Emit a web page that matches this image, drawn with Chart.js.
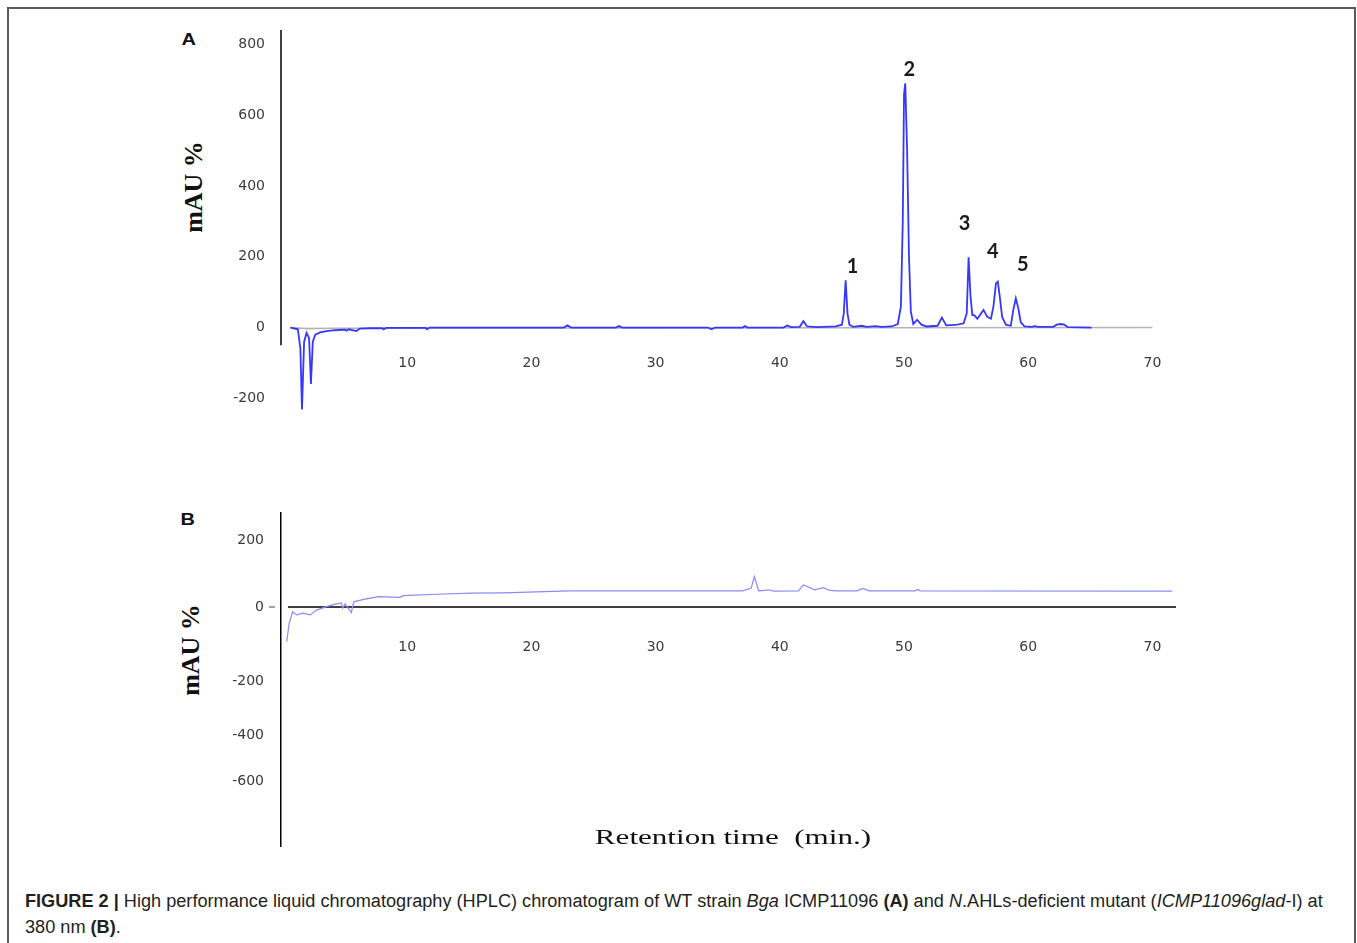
<!DOCTYPE html>
<html>
<head>
<meta charset="utf-8">
<script src="https://cdn.jsdelivr.net/npm/chart.js@4.4.0/dist/chart.umd.min.js"></script>
<style>
  body { margin: 0; width: 1357px; height: 943px; background: #fff; position: relative; overflow: hidden; }
  .frame { position: absolute; left: 7px; top: 7px; width: 1349px; height: 980px; border: 2px solid #5a5a5a; box-sizing: border-box; }
  .box { position: absolute; }
  .panel { position: absolute; font: bold 16px "Liberation Sans", sans-serif; color: #111; transform: scaleX(1.25); }
  .ytitle { position: absolute; width: 160px; height: 30px; line-height: 30px; text-align: center;
            font: bold 26px "Liberation Serif", serif; color: #111; transform: rotate(-90deg); white-space: pre; }
  .xtitle { position: absolute; left: 483px; top: 825px; width: 500px; height: 30px; line-height: 30px; text-align: center;
            font: 21px "Liberation Serif", serif; color: #111; transform: scaleX(1.48); white-space: pre; }
  .caption { position: absolute; left: 25px; top: 888px; width: 1320px; font: 18.15px "Liberation Sans", sans-serif;
             line-height: 26px; color: #231f20; white-space: nowrap; }
</style>
</head>
<body>
<div class="frame"></div>

<div class="panel" style="left:183px; top:31px;">A</div>
<div class="panel" style="left:182px; top:511px;">B</div>

<div class="ytitle" style="left:114px; top:172px;">mAU %</div>
<div class="ytitle" style="left:111px; top:635px;">mAU %</div>

<div class="box" style="left:170px; top:20px; width:1030px; height:410px;"><canvas id="chartA"></canvas></div>
<div class="box" style="left:170px; top:503px; width:1030px; height:344px;"><canvas id="chartB"></canvas></div>

<div class="xtitle">Retention time  (min.)</div>

<div class="caption"><b>FIGURE 2 |</b> High performance liquid chromatography (HPLC) chromatogram of WT strain <i>Bga</i> ICMP11096 <b>(A)</b> and <i>N</i>.AHLs-deficient mutant (<i>ICMP11096glad</i>-I) at<br>380 nm <b>(B)</b>.</div>

<script>
// ---- data ----
const xTickLabels = [10, 20, 30, 40, 50, 60, 70]
const yTickLabelsA = [800, 600, 400, 200, 0, -200]
const yTickLabelsB = ['200', '0', '-200', '-400', '-600']

// panel A, WT strain, blue trace
const timeA = [
  0.6, 1.2, 1.4, 1.53, 1.7, 1.9, 2.1, 2.25, 2.4, 2.6,
  3.0, 3.5, 4.0, 4.5, 5.0, 5.1, 5.3, 5.9, 6.2, 7.0,
  8.0, 8.1, 8.3, 11.5, 11.6, 11.8, 22.6, 22.9, 23.2,
  26.8, 27.05, 27.3, 34.2, 34.5, 34.8, 37.0, 37.2, 37.4,
  40.3, 40.6, 40.9, 41.6, 41.9, 42.2, 43.0, 44.5,
  45.0, 45.15, 45.3, 45.45, 45.6, 45.9, 46.6, 47.0, 47.7, 48.2,
  49.0, 49.5, 49.75, 49.9, 50.0, 50.1, 50.25, 50.4, 50.55, 50.75,
  51.05, 51.4, 51.8, 52.7, 53.05, 53.4, 54.3, 54.8,
  55.05, 55.2, 55.35, 55.5, 55.65, 55.9, 56.4, 56.7, 57.0,
  57.2, 57.4, 57.55, 57.7, 57.9, 58.2, 58.6, 58.8, 59.0, 59.2, 59.4, 59.7,
  60.3, 60.5, 60.8, 62.0, 62.3, 62.6, 62.9, 63.2, 65.1
]
const signalA = [
  0, -5, -60, -232, -40, -15, -30, -160, -40, -20,
  -14, -10, -8, -7, -6, -9, -5, -10, -3, -2,
  -2, -5, -1, -1, -5, 0, 0, 6, 0,
  0, 4, 0, 0, -5, 0, 0, 4, 0,
  0, 6, 1, 2, 18, 3, 1, 3,
  8, 40, 134, 40, 8, 2, 5, 2, 4, 2,
  3, 10, 60, 300, 660, 691, 500, 200, 45, 10,
  22, 8, 3, 5, 28, 6, 8, 12,
  40, 199, 90, 35, 35, 25, 50, 30, 25,
  60, 125, 130, 90, 30, 8, 5, 50, 83, 55, 15, 3,
  2, 4, 2, 2, 8, 10, 8, 1, 0
]

// panel A, grey reference trace
const timeRefA = [0.56, 2.0, 4.0, 70.0]
const signalRefA = [0, -3, -2, 0]

// numbered peaks
const peakLabels = ['1', '2', '3', '4', '5']
const peakTimes = [45.3, 50.1, 55.2, 57.55, 59.0]

// panel B, mutant, light blue trace
const timeB = [
  0.3, 0.5, 0.78, 1.1, 1.6, 2.2, 2.7, 3.5, 4.3, 4.7,
  4.8, 5.0, 5.5, 5.7, 6.5, 7.7, 9.4, 9.7, 12.4, 15.1,
  17.7, 23.1, 30.0, 37.0, 37.7, 37.95, 38.3, 38.8, 39.1, 39.5,
  41.5, 41.9, 42.3, 42.8, 43.5, 44.0, 44.6, 46.2, 46.7, 47.2,
  50.9, 51.1, 51.3, 71.6
]
const signalB = [
  -100, -47, -14, -23, -18, -23, -9, 1, 9, 12,
  -3, 9, -16, 15, 22, 30, 28, 33, 37, 40,
  41, 47, 47, 47, 55, 88, 47, 48, 50, 46,
  47, 64, 58, 50, 56, 48, 47, 47, 54, 47,
  47, 51, 47, 46
]

// ---- chart setup ----
const tickFont = {family: 'DejaVu Sans', size: 14}
const tickColor = '#3a3a3a'

function toPoints(xs, ys) {
  return xs.map((t, i) => ({x: t, y: ys[i]}))
}

// keep the plot area exactly where the original one is
function fixYAxis(s) {
  s.width = 111
  s.paddingTop = 0
  s.paddingBottom = 0
}

const extrasA = {
  id: 'extrasA',
  afterDatasetsDraw(chart) {
    const {ctx, chartArea, scales} = chart
    const x = scales.x, y = scales.y
    ctx.save()
    // y axis line stops just under the zero level
    ctx.strokeStyle = '#000'
    ctx.lineWidth = 1.5
    ctx.beginPath()
    ctx.moveTo(chartArea.left, chartArea.top)
    ctx.lineTo(chartArea.left, y.getPixelForValue(-50))
    ctx.stroke()

    // peak numbers
    const dx = [7, 4, -4, -5, 7]
    const dy = [-14, -14, -34, -30, -34]
    ctx.fillStyle = '#1a1a1a'
    ctx.font = 'bold 20px Lato'
    ctx.textAlign = 'center'
    ctx.textBaseline = 'middle'
    peakLabels.forEach((lab, i) => {
      const h = signalA[timeA.indexOf(peakTimes[i])]
      ctx.fillText(lab, x.getPixelForValue(peakTimes[i]) + dx[i], y.getPixelForValue(h) + dy[i])
    })
    ctx.restore()
  }
}

const extrasB = {
  id: 'extrasB',
  beforeDatasetsDraw(chart) {
    const {ctx, chartArea, scales} = chart
    const x = scales.x, y = scales.y
    const y0 = y.getPixelForValue(0)
    ctx.save()
    ctx.strokeStyle = '#000'
    ctx.lineWidth = 1.5
    ctx.beginPath()
    ctx.moveTo(x.getPixelForValue(0.4), y0)
    ctx.lineTo(x.getPixelForValue(71.9), y0)
    ctx.stroke()
    // little dash beside the 0 label
    ctx.lineWidth = 1
    ctx.strokeStyle = '#444'
    ctx.beginPath()
    ctx.moveTo(chartArea.left - 12, y0)
    ctx.lineTo(chartArea.left - 6, y0)
    ctx.stroke()
    ctx.restore()
  }
}

function xScale(pad) {
  return {
    type: 'linear',
    min: -0.16,
    max: 73.83,
    position: {y: 0},
    afterFit: s => { s.height = 0 },
    grid: {display: false, drawTicks: false},
    border: {display: false},
    afterBuildTicks: s => { s.ticks = xTickLabels.map(v => ({value: v})) },
    ticks: {padding: pad, color: tickColor, font: tickFont, autoSkip: false, maxRotation: 0}
  }
}

const configA = {
  type: 'scatter',
  data: {
    datasets: [
      {data: toPoints(timeA, signalA), showLine: true, borderColor: '#3636ff', borderWidth: 1.8, pointRadius: 0, tension: 0},
      {data: toPoints(timeRefA, signalRefA), showLine: true, borderColor: '#b4b4b4', borderWidth: 1.6, pointRadius: 0, tension: 0}
    ]
  },
  options: {
    responsive: true,
    maintainAspectRatio: false,
    animation: false,
    layout: {padding: {top: 10, left: 0, right: 0, bottom: 0}},
    plugins: {legend: {display: false}, tooltip: {enabled: false}},
    scales: {
      x: xScale(27),
      y: {
        type: 'linear',
        min: -290,
        max: 842,
        position: 'left',
        afterFit: fixYAxis,
        afterBuildTicks: s => { s.ticks = yTickLabelsA.map(v => ({value: v})) },
        grid: {display: false, drawTicks: false},
        border: {display: false},
        ticks: {padding: 16, color: tickColor, font: tickFont, autoSkip: false}
      }
    }
  },
  plugins: [extrasA]
}

// the B axis labels are unevenly spaced in the original figure
const tickPosB = [194, 0, -216, -371, -506]

const configB = {
  type: 'scatter',
  data: {
    datasets: [
      {data: toPoints(timeB, signalB), showLine: true, borderColor: '#8a8aff', borderWidth: 1.2, pointRadius: 0, tension: 0}
    ]
  },
  options: {
    responsive: true,
    maintainAspectRatio: false,
    animation: false,
    layout: {padding: {top: 10, left: 0, right: 0, bottom: 0}},
    plugins: {legend: {display: false}, tooltip: {enabled: false}},
    scales: {
      x: xScale(32),
      y: {
        type: 'linear',
        min: -695.7,
        max: 272.5,
        position: 'left',
        afterFit: fixYAxis,
        afterBuildTicks: s => { s.ticks = tickPosB.map(v => ({value: v})) },
        grid: {display: false, drawTicks: false},
        border: {display: true, color: '#000', width: 1.5},
        ticks: {
          padding: 17,
          color: tickColor,
          font: tickFont,
          autoSkip: false,
          callback: (v, i) => yTickLabelsB[i]
        }
      }
    }
  },
  plugins: [extrasB]
}

let chartA = new Chart(document.getElementById('chartA'), configA)
let chartB = new Chart(document.getElementById('chartB'), configB)
</script>
</body>
</html>
